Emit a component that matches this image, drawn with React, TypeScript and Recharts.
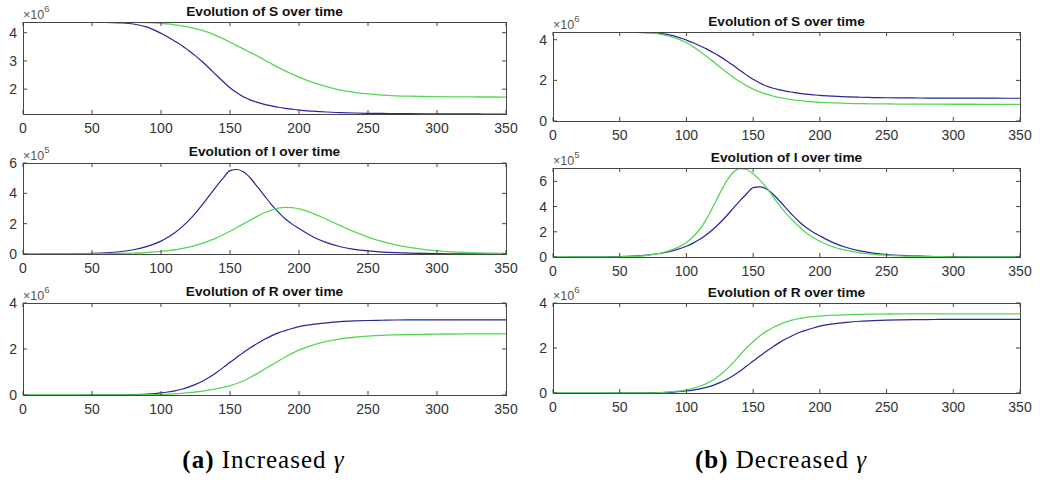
import { LineChart, Line, XAxis, YAxis } from "recharts";

// time in days: every 10 days, every 5 days through the epidemic peak
const days = [
  0, 10, 20, 30, 40, 50, 60, 70, 80, 90, 100, 105, 110, 115, 120, 125, 130, 135, 140,
  145, 150, 155, 160, 165, 170, 175, 180, 185, 190, 195, 200, 210, 220, 230, 240, 250,
  260, 270, 280, 290, 300, 310, 320, 330, 340, 350,
];
const xTicks = [0, 50, 100, 150, 200, 250, 300, 350];

// baseline run (blue), same in both columns
const baseS = [
  4.38, 4.38, 4.38, 4.38, 4.38, 4.375, 4.37, 4.35, 4.31, 4.2, 3.98, 3.85, 3.7, 3.55,
  3.37, 3.18, 2.97, 2.74, 2.5, 2.27, 2.05, 1.87, 1.72, 1.61, 1.53, 1.46, 1.41, 1.36,
  1.32, 1.29, 1.26, 1.22, 1.19, 1.17, 1.155, 1.145, 1.14, 1.135, 1.13, 1.127, 1.125,
  1.123, 1.122, 1.121, 1.12, 1.12,
]; // x10^6
const baseI = [
  0, 0, 0.01, 0.01, 0.02, 0.04, 0.08, 0.15, 0.28, 0.5, 0.85, 1.1, 1.4, 1.77, 2.2, 2.7,
  3.25, 3.85, 4.45, 5.0, 5.5, 5.57, 5.4, 4.98, 4.42, 3.84, 3.26, 2.76, 2.32, 1.97, 1.68,
  1.14, 0.75, 0.48, 0.31, 0.2, 0.13, 0.085, 0.055, 0.035, 0.022, 0.014, 0.009, 0.006,
  0.004, 0.003,
]; // x10^5
const baseR = [
  0, 0, 0, 0, 0, 0.002, 0.005, 0.01, 0.02, 0.04, 0.09, 0.13, 0.18, 0.25, 0.34, 0.46,
  0.6, 0.77, 0.97, 1.19, 1.42, 1.64, 1.86, 2.06, 2.25, 2.42, 2.57, 2.7, 2.8, 2.89, 2.97,
  3.07, 3.14, 3.19, 3.22, 3.24, 3.25, 3.26, 3.265, 3.268, 3.27, 3.27, 3.27, 3.27, 3.27,
  3.27,
]; // x10^6

// increased gamma (green, left column)
const incS = [
  4.38, 4.38, 4.38, 4.38, 4.38, 4.38, 4.378, 4.375, 4.37, 4.36, 4.33, 4.31, 4.28, 4.245,
  4.2, 4.145, 4.08, 4.0, 3.9, 3.79, 3.67, 3.545, 3.42, 3.295, 3.17, 3.035, 2.9, 2.77,
  2.65, 2.535, 2.43, 2.24, 2.09, 1.97, 1.89, 1.83, 1.79, 1.765, 1.75, 1.74, 1.733,
  1.728, 1.725, 1.723, 1.722, 1.72,
];
const incI = [
  0, 0, 0, 0, 0.005, 0.01, 0.02, 0.035, 0.06, 0.1, 0.17, 0.22, 0.28, 0.36, 0.45, 0.57,
  0.7, 0.87, 1.05, 1.27, 1.5, 1.75, 2.0, 2.25, 2.5, 2.72, 2.9, 3.03, 3.08, 3.06, 2.97,
  2.68, 2.28, 1.87, 1.47, 1.12, 0.83, 0.6, 0.43, 0.3, 0.21, 0.145, 0.1, 0.07, 0.048,
  0.033,
];
const incR = [
  0, 0, 0, 0, 0, 0, 0, 0.003, 0.006, 0.01, 0.02, 0.035, 0.05, 0.07, 0.1, 0.13, 0.17,
  0.22, 0.27, 0.33, 0.4, 0.5, 0.62, 0.77, 0.94, 1.12, 1.3, 1.48, 1.65, 1.81, 1.95, 2.17,
  2.33, 2.44, 2.51, 2.56, 2.595, 2.615, 2.63, 2.64, 2.648, 2.652, 2.655, 2.657, 2.658,
  2.66,
];

// decreased gamma (green, right column)
const decS = [
  4.38, 4.38, 4.38, 4.38, 4.38, 4.375, 4.365, 4.34, 4.28, 4.13, 3.85, 3.66, 3.43, 3.19,
  2.93, 2.66, 2.4, 2.15, 1.93, 1.74, 1.57, 1.43, 1.32, 1.23, 1.15, 1.09, 1.04, 1.0,
  0.97, 0.94, 0.92, 0.89, 0.87, 0.855, 0.845, 0.838, 0.833, 0.83, 0.828, 0.826, 0.825,
  0.824, 0.823, 0.822, 0.822, 0.822,
];
const decI = [
  0, 0, 0, 0.005, 0.01, 0.02, 0.05, 0.12, 0.28, 0.6, 1.15, 1.6, 2.2, 3.0, 4.0, 5.05,
  6.0, 6.7, 7.02, 6.95, 6.6, 6.1, 5.5, 4.78, 4.05, 3.42, 2.85, 2.35, 1.9, 1.55, 1.25,
  0.8, 0.52, 0.33, 0.21, 0.14, 0.09, 0.06, 0.04, 0.025, 0.016, 0.01, 0.007, 0.005,
  0.003, 0.002,
];
const decR = [
  0, 0, 0, 0, 0, 0, 0, 0.005, 0.02, 0.06, 0.14, 0.21, 0.3, 0.42, 0.58, 0.79, 1.05, 1.35,
  1.68, 2.0, 2.28, 2.53, 2.74, 2.91, 3.05, 3.16, 3.25, 3.31, 3.36, 3.39, 3.42, 3.46,
  3.48, 3.495, 3.505, 3.51, 3.515, 3.518, 3.52, 3.52, 3.52, 3.52, 3.52, 3.52, 3.52,
  3.52,
];

const axisColor = "#454545";
const labelColor = "#333";
const blue = "#25259e";
const green = "#55d655";
const sans = "'Liberation Sans', Arial, Helvetica, sans-serif";

const MT = 8;
const MR = 16;
const XH = 30;
const TICK = 4;

type PanelProps = {
  left: number;
  top: number;
  boxW: number;
  boxH: number;
  yw: number;
  baseVals: number[];
  altVals: number[];
  domain: [number, number];
  yTicks: number[];
};

const Panel = ({ left, top, boxW, boxH, yw, baseVals, altVals, domain, yTicks }: PanelProps) => {
  const rows = days.map((d, i) => ({ day: d, base: baseVals[i], alt: altVals[i] }));

  // bottom axis tick: inward marks on bottom and top edges, label below
  const XTick = (p: any) => (
    <g>
      <line x1={p.x} x2={p.x} y1={p.y} y2={p.y - TICK} stroke={axisColor} />
      <line x1={p.x} x2={p.x} y1={p.y - boxH} y2={p.y - boxH + TICK} stroke={axisColor} />
      <text x={p.x} y={p.y + 19} textAnchor="middle" fill={labelColor} fontSize={14} fontFamily={sans}>
        {p.payload.value}
      </text>
    </g>
  );

  // left axis tick: inward marks on left and right edges, label at left
  const YTick = (p: any) => (
    <g>
      <line x1={p.x} x2={p.x + TICK} y1={p.y} y2={p.y} stroke={axisColor} />
      <line x1={p.x + boxW} x2={p.x + boxW - TICK} y1={p.y} y2={p.y} stroke={axisColor} />
      <text x={p.x - 6} y={p.y + 5} textAnchor="end" fill={labelColor} fontSize={14} fontFamily={sans}>
        {p.payload.value}
      </text>
    </g>
  );

  return (
    <>
      <div style={{ position: "absolute", left: left - yw, top: top - MT }}>
        <LineChart
          width={yw + boxW + MR}
          height={MT + boxH + XH}
          data={rows}
          margin={{ top: MT, right: MR, bottom: 0, left: 0 }}
        >
          <XAxis
            dataKey="day"
            type="number"
            domain={[0, 350]}
            ticks={xTicks}
            interval={0}
            height={XH}
            tickSize={0}
            tickMargin={0}
            tickLine={false}
            axisLine={false}
            tick={<XTick />}
          />
          <YAxis
            type="number"
            domain={domain}
            ticks={yTicks}
            interval={0}
            allowDataOverflow
            width={yw}
            tickSize={0}
            tickMargin={0}
            tickLine={false}
            axisLine={false}
            tick={<YTick />}
          />
          <Line
            type="monotone"
            dataKey="base"
            stroke={blue}
            strokeWidth={1.2}
            dot={false}
            isAnimationActive={false}
          />
          <Line
            type="monotone"
            dataKey="alt"
            stroke={green}
            strokeWidth={1.3}
            dot={false}
            isAnimationActive={false}
          />
        </LineChart>
      </div>
      <div
        style={{
          position: "absolute",
          left: left - 0.5,
          top: top - 0.5,
          width: boxW + 1,
          height: boxH + 1,
          boxSizing: "border-box",
          border: `1px solid ${axisColor}`,
          pointerEvents: "none",
        }}
      />
    </>
  );
};

const Exponent = ({ x, boxTop, exp }: { x: number; boxTop: number; exp: string }) => (
  <text x={x} y={boxTop - 3.5} fontFamily={sans} fontSize={12.5} fill="#555">
    ×10
    <tspan dy={-7} fontSize={9.5}>
      {exp}
    </tspan>
  </text>
);

const Title = ({ x, y, text }: { x: number; y: number; text: string }) => (
  <text x={x} y={y} textAnchor="middle" fontFamily={sans} fontSize={13.7} fontWeight="bold" fill="#111">
    {text}
  </text>
);

export default function App() {
  const L = { left: 23, boxW: 483, yw: 23 };
  const R = { left: 553, boxW: 467, yw: 30 };
  const serif = "'Liberation Serif', 'Times New Roman', serif";
  return (
    <div style={{ position: "absolute", left: 0, top: 0, width: 1040, height: 489, background: "#fff" }}>
      <Panel {...L} top={22} boxH={92} baseVals={baseS} altVals={incS} domain={[1.12, 4.38]} yTicks={[2, 3, 4]} />
      <Panel {...L} top={163} boxH={91} baseVals={baseI} altVals={incI} domain={[0, 6]} yTicks={[0, 2, 4, 6]} />
      <Panel {...L} top={303} boxH={92} baseVals={baseR} altVals={incR} domain={[0, 4]} yTicks={[0, 2, 4]} />
      <Panel {...R} top={32} boxH={89} baseVals={baseS} altVals={decS} domain={[0, 4.38]} yTicks={[0, 2, 4]} />
      <Panel {...R} top={168} boxH={89} baseVals={baseI} altVals={decI} domain={[0, 7.06]} yTicks={[0, 2, 4, 6]} />
      <Panel {...R} top={303} boxH={90} baseVals={baseR} altVals={decR} domain={[0, 4]} yTicks={[0, 2, 4]} />
      <svg
        width={1040}
        height={489}
        style={{ position: "absolute", left: 0, top: 0, pointerEvents: "none" }}
      >
        <Title x={264.5} y={16} text="Evolution of S over time" />
        <Title x={264.5} y={156} text="Evolution of I over time" />
        <Title x={264.5} y={295.5} text="Evolution of R over time" />
        <Title x={786.5} y={25.5} text="Evolution of S over time" />
        <Title x={786.5} y={161.5} text="Evolution of I over time" />
        <Title x={786.5} y={297} text="Evolution of R over time" />
        <Exponent x={23} boxTop={22} exp="6" />
        <Exponent x={23} boxTop={163} exp="5" />
        <Exponent x={23} boxTop={303} exp="6" />
        <Exponent x={553} boxTop={32} exp="6" />
        <Exponent x={553} boxTop={168} exp="5" />
        <Exponent x={553} boxTop={303} exp="6" />
        <text x={263.5} y={468} textAnchor="middle" fontFamily={serif} fontSize={25} letterSpacing={1} fill="#000">
          <tspan fontWeight="bold">(a)</tspan> Increased <tspan fontStyle="italic">γ</tspan>
        </text>
        <text x={781} y={468} textAnchor="middle" fontFamily={serif} fontSize={25} letterSpacing={1} fill="#000">
          <tspan fontWeight="bold">(b)</tspan> Decreased <tspan fontStyle="italic">γ</tspan>
        </text>
      </svg>
    </div>
  );
}
